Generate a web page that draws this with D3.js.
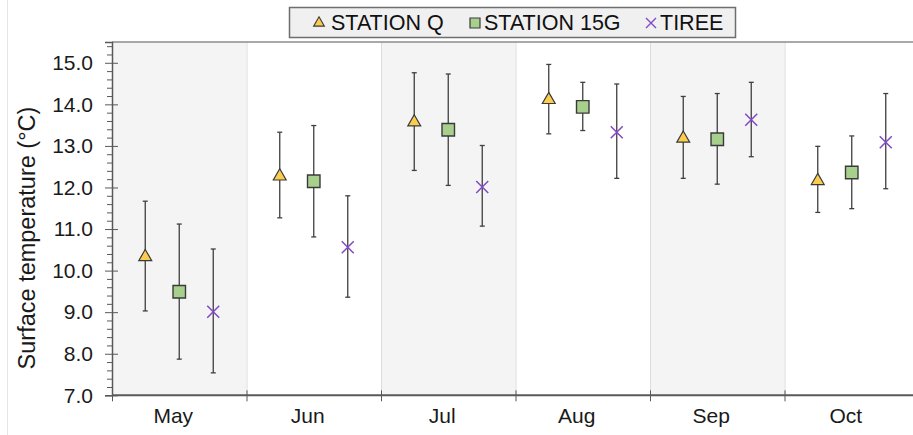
<!DOCTYPE html>
<html>
<head>
<meta charset="utf-8">
<script src="https://cdn.jsdelivr.net/npm/d3@7"></script>
<style>
  body { margin: 0; background: #fff; }
  svg { display: block; font-family: "Liberation Sans", Arial, sans-serif; }
</style>
</head>
<body>
<div id="chart"></div>
<script>
var months = ["May", "Jun", "Jul", "Aug", "Sep", "Oct"],
	series = ["STATION Q", "STATION 15G", "TIREE"];

// mean and error-bar ends, per station
var qMean = [10.33, 12.27, 13.57, 14.11, 13.18, 12.16],
	qLow = [9.03, 11.27, 12.41, 13.29, 12.22, 11.40],
	qHigh = [11.67, 13.33, 14.76, 14.96, 14.19, 12.99];
var g15Mean = [9.49, 12.15, 13.39, 13.94, 13.16, 12.36],
	g15Low = [7.87, 10.81, 12.05, 13.37, 12.08, 11.49],
	g15High = [11.12, 13.49, 14.73, 14.53, 14.26, 13.24];
var tireeMean = [9.01, 10.56, 12.01, 13.33, 13.63, 13.09],
	tireeLow = [7.54, 9.36, 11.07, 12.22, 12.74, 11.97],
	tireeHigh = [10.52, 11.80, 13.01, 14.49, 14.53, 14.26];

var yTicks = [7, 8, 9, 10, 11, 12, 13, 14, 15];

var W = 913, H = 435,
	plotL = 112, plotT = 42, plotR = 919, plotB = 395.3;

var svg = d3.select("#chart").append("svg")
	.attr("width", W)
	.attr("height", H);

var x = d3.scaleBand().domain(months).range([plotL, plotR]).padding(0);
var inner = d3.scalePoint().domain(series).range([-34, 34]);
var y = d3.scaleLinear().domain([7, 15.5]).range([plotB, plotT]);

// faint frame line on the left
svg.append("line")
	.attr("x1", 7.5).attr("x2", 7.5)
	.attr("y1", 0).attr("y2", H)
	.attr("stroke", "#e6e6e6");

// alternating month bands
svg.selectAll(".band")
	.data(months)
	.enter().append("rect")
	.attr("class", "band")
	.attr("x", function(d) { return x(d); })
	.attr("y", plotT)
	.attr("width", x.bandwidth())
	.attr("height", plotB - plotT)
	.attr("fill", function(d, i) { return i % 2 == 0 ? "#f4f4f4" : "#ffffff"; });

svg.selectAll(".sep")
	.data(months.slice(1))
	.enter().append("line")
	.attr("class", "sep")
	.attr("x1", function(d) { return x(d) + 0.5; })
	.attr("x2", function(d) { return x(d) + 0.5; })
	.attr("y1", plotT).attr("y2", plotB)
	.attr("stroke", "#dcdcdc");

// top border
svg.append("line")
	.attr("x1", plotL).attr("x2", W)
	.attr("y1", plotT).attr("y2", plotT)
	.attr("stroke", "#8c8c8c")
	.attr("stroke-width", 1.5);

// y axis, minor ticks first
var minor = d3.range(7, 15.51, 0.2).filter(function(v) {
	return Math.abs(v - Math.round(v)) > 0.01;
});
svg.append("g")
	.attr("transform", "translate(" + plotL + ",0)")
	.call(d3.axisLeft(y).tickValues(minor).tickSize(5).tickFormat(""))
	.call(function(g) { g.select(".domain").remove(); })
	.selectAll("line").attr("stroke", "#595959");

var yAxis = svg.append("g")
	.attr("transform", "translate(" + plotL + ",0)")
	.call(d3.axisLeft(y).tickValues(yTicks).tickSize(7).tickPadding(12).tickFormat(d3.format(".1f")));
yAxis.select(".domain").attr("stroke", "#595959").attr("stroke-width", 1.5);
yAxis.selectAll("line").attr("x1", 6).attr("stroke", "#595959");
yAxis.selectAll("text")
	.attr("font-size", 21)
	.attr("font-family", "Liberation Sans, Arial, sans-serif")
	.attr("fill", "#1a1a1a");

// x axis, ticks on band edges
var xAxis = svg.append("g")
	.attr("transform", "translate(0," + plotB + ")")
	.call(d3.axisBottom(x).tickSize(0).tickPadding(13));
xAxis.select(".domain").remove();
xAxis.selectAll("text")
	.attr("font-size", 21)
	.attr("dx", -6)
	.attr("font-family", "Liberation Sans, Arial, sans-serif")
	.attr("fill", "#1a1a1a");

svg.append("line")
	.attr("x1", plotL).attr("x2", W)
	.attr("y1", plotB).attr("y2", plotB)
	.attr("stroke", "#595959")
	.attr("stroke-width", 2);

svg.selectAll(".xtick")
	.data(months)
	.enter().append("line")
	.attr("class", "xtick")
	.attr("x1", function(d) { return x(d) + 0.5; })
	.attr("x2", function(d) { return x(d) + 0.5; })
	.attr("y1", plotB - 5).attr("y2", plotB + 6)
	.attr("stroke", "#595959");

// y axis title
svg.append("text")
	.attr("transform", "translate(35,238) rotate(-90)")
	.attr("text-anchor", "middle")
	.attr("font-size", 23.5)
	.attr("fill", "#1a1a1a")
	.text("Surface temperature (°C)");

// build rows for each station
function rows(name, mean, low, high) {
	return months.map(function(m, i) {
		return { series: name, month: m, mean: mean[i], low: low[i], high: high[i] };
	});
}
var stations = [
	rows(series[0], qMean, qLow, qHigh),
	rows(series[1], g15Mean, g15Low, g15High),
	rows(series[2], tireeMean, tireeLow, tireeHigh)
];
var all = [].concat(stations[0], stations[1], stations[2]);

function cx(d) { return x(d.month) + x.bandwidth() / 2 + inner(d.series); }

// error bars
var err = svg.selectAll(".err")
	.data(all)
	.enter().append("g")
	.attr("class", "err")
	.attr("stroke", "#3f3f3f")
	.attr("stroke-width", 1.3);
err.append("line")
	.attr("x1", cx).attr("x2", cx)
	.attr("y1", function(d) { return y(d.low); })
	.attr("y2", function(d) { return y(d.high); });
err.append("line")
	.attr("x1", function(d) { return cx(d) - 2.5; })
	.attr("x2", function(d) { return cx(d) + 2.5; })
	.attr("y1", function(d) { return y(d.low); })
	.attr("y2", function(d) { return y(d.low); });
err.append("line")
	.attr("x1", function(d) { return cx(d) - 2.5; })
	.attr("x2", function(d) { return cx(d) + 2.5; })
	.attr("y1", function(d) { return y(d.high); })
	.attr("y2", function(d) { return y(d.high); });

// markers
var tri = d3.symbol().type(d3.symbolTriangle).size(72)(),
	sq = d3.symbol().type(d3.symbolSquare).size(156)(),
	cross = "M-6,-6L6,6M-6,6L6,-6";

function marker(sel, kind) {
	if (kind == 0) {
		sel.append("path").attr("d", tri)
			.attr("fill", "#fbcd4f").attr("stroke", "#3a3a3a").attr("stroke-width", 1.2);
	} else if (kind == 1) {
		sel.append("path").attr("d", sq)
			.attr("fill", "#a8d08d").attr("stroke", "#3a3a3a").attr("stroke-width", 1.4);
	} else {
		sel.append("path").attr("d", cross)
			.attr("fill", "none").attr("stroke", "#8149c6").attr("stroke-width", 1.5);
	}
}

stations.forEach(function(rowsOf, k) {
	svg.selectAll(".m" + k)
		.data(rowsOf)
		.enter().append("g")
		.attr("class", "m" + k)
		.attr("transform", function(d) { return "translate(" + cx(d) + "," + y(d.mean) + ")"; })
		.each(function() { marker(d3.select(this), k); });
});

// legend
var legend = svg.append("g");
legend.append("rect")
	.attr("x", 289.5).attr("y", 7.5)
	.attr("width", 446).attr("height", 30)
	.attr("fill", "#f0f0f0")
	.attr("stroke", "#6e6e6e")
	.attr("stroke-width", 1.5);

var legendX = [319, 475, 651],
	legendText = [331, 484, 660];
series.forEach(function(s, k) {
	var g = legend.append("g").attr("transform", "translate(" + legendX[k] + ",23)");
	if (k == 0) {
		g.append("path").attr("d", d3.symbol().type(d3.symbolTriangle).size(50)())
			.attr("fill", "#fbcd4f").attr("stroke", "#3a3a3a").attr("stroke-width", 1.1);
	} else if (k == 1) {
		g.append("path").attr("d", d3.symbol().type(d3.symbolSquare).size(100)())
			.attr("fill", "#a8d08d").attr("stroke", "#3a3a3a").attr("stroke-width", 1.2);
	} else {
		g.append("path").attr("d", "M-5,-5L5,5M-5,5L5,-5")
			.attr("fill", "none").attr("stroke", "#8149c6").attr("stroke-width", 1.4);
	}
	legend.append("text")
		.attr("x", legendText[k]).attr("y", 30)
		.attr("font-size", 21.5)
		.attr("fill", "#111")
		.text(s);
});
</script>
</body>
</html>
